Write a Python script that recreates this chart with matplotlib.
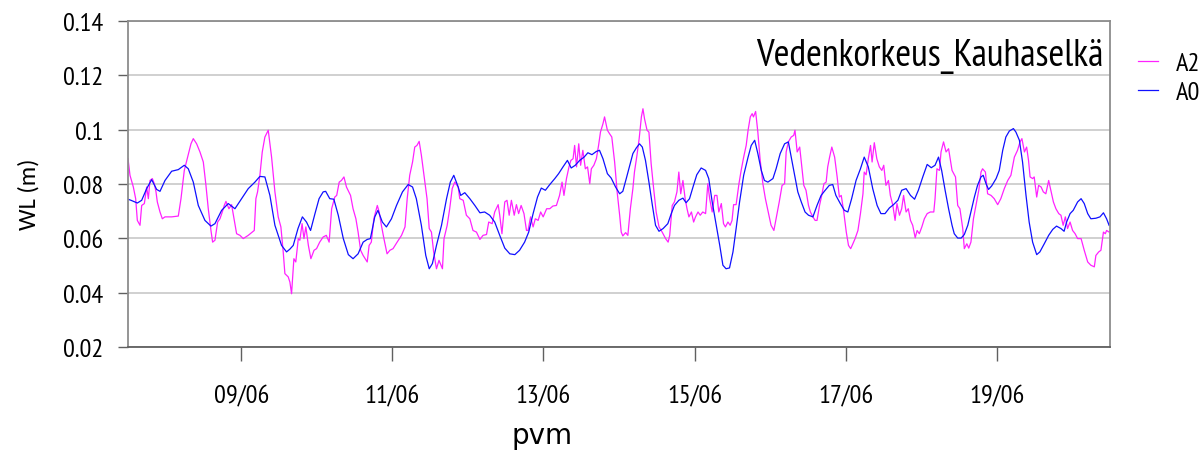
import matplotlib
matplotlib.use('Agg')
import matplotlib.pyplot as plt
import pandas as pd

# water level, hours since 07/06 12:00
start = pd.Timestamp('2011-06-07 12:00')
end = pd.Timestamp('2011-06-20 12:00')
tick_days = ['2011-06-09', '2011-06-11', '2011-06-13', '2011-06-15', '2011-06-17', '2011-06-19']
y_ticks = [0.02, 0.04, 0.06, 0.08, 0.1, 0.12, 0.14]
y_labels = ['0.02', '0.04', '0.06', '0.08', '0.1', '0.12', '0.14']

a0_hours = [0.0, 0.95, 2.96, 4.34, 5.93, 7.51, 9.1, 10.16, 11.75, 13.86, 15.98, 17.88, 19.15, 20.74,
            22.33, 24.44, 26.35, 27.62, 29.74, 31.85, 33.97, 36.08, 38.2, 40.32, 41.9, 43.49, 45.08,
            46.67, 48.78, 50.37,
            51.4, 52.5, 54.0, 55.4, 56.7, 58.0, 59.4, 60.7, 62.0, 62.8, 64.1, 65.4, 66.8, 68.4, 70.0,
            71.5, 73.1, 74.7, 76.0, 77.0, 78.4, 79.4, 80.8, 82.1, 83.7, 85.3, 87.2, 89.0, 90.4, 91.6,
            93.2, 94.6, 95.7, 96.7, 98.0, 99.6, 101.2, 102.4, 103.5,
            104.9, 105.7, 107.0, 108.6, 110.2, 111.8, 113.3, 114.9, 116.5, 118.1, 119.7, 121.3, 122.9,
            124.4, 126.0, 127.3, 128.7, 130.1, 131.3, 132.6, 134.0, 135.6, 136.8, 138.2, 139.6, 140.8,
            142.1, 143.5, 144.9, 146.1, 147.4, 148.8, 149.8, 150.9, 152.3, 153.5, 154.9, 156.2,
            157.2, 158.3, 159.4, 160.4, 161.5, 162.5, 163.4, 164.4, 165.5, 166.6, 167.6, 168.7, 170.0,
            171.5, 172.6, 173.6, 175.0, 176.3, 177.3, 178.4, 179.5, 180.7, 182.1, 183.5, 184.5, 185.6,
            186.9, 188.0, 189.0, 190.0, 191.1, 192.2, 193.2, 194.3, 195.6, 197.0, 198.0, 199.1, 200.1,
            201.2, 202.2, 203.3, 204.9, 205.9, 207.2, 208.6,
            209.8, 210.7, 211.7, 212.8, 213.9, 215.1, 216.2, 217.6, 218.9, 220.2, 221.5, 222.8, 223.9,
            224.9, 226.3, 227.6, 228.7, 229.9, 231.3, 232.7, 233.9, 235.2, 236.6, 238.0, 239.2, 240.5,
            241.9, 243.2, 244.6, 245.8, 247.2, 248.6, 249.9, 251.1, 252.5, 253.9, 255.2, 256.4, 257.5,
            258.5, 259.6, 260.7,
            261.8, 262.5, 263.6, 264.7, 265.7, 266.8, 267.8, 268.9, 269.9, 271.0, 271.7, 272.6, 273.4,
            274.4, 275.8, 276.8, 277.9, 278.9, 280.0, 281.3, 282.1, 283.2, 284.2, 285.3, 286.3, 287.4,
            288.7, 289.7, 291.1, 292.5, 293.8, 295.0, 296.4, 297.4, 298.2, 299.3, 300.3, 301.7, 302.8,
            303.8, 304.9, 305.9, 307.5, 308.8, 309.9, 310.9, 311.7]
a0_wl = [0.0744, 0.0740, 0.0730, 0.0740, 0.0783, 0.0816, 0.0780, 0.0773, 0.0813, 0.0847, 0.0853, 0.0869,
         0.0856, 0.0807, 0.0721, 0.0666, 0.0645, 0.0654, 0.0703, 0.0728, 0.0709, 0.0746, 0.0783, 0.0807,
         0.0828, 0.0826, 0.0758, 0.0648, 0.0574, 0.0550,
         0.0560, 0.0574, 0.0636, 0.0679, 0.0660, 0.0629, 0.0691, 0.0746, 0.0771, 0.0773, 0.0746, 0.0744,
         0.0685, 0.0599, 0.0540, 0.0525, 0.0543, 0.0586, 0.0596, 0.0599, 0.0679, 0.0703, 0.0660, 0.0642,
         0.0672, 0.0721, 0.0771, 0.0798, 0.0789, 0.0746, 0.0648, 0.0537, 0.0488, 0.0507, 0.0574, 0.0648,
         0.0746, 0.0807, 0.0832,
         0.0789, 0.0758, 0.0768, 0.0746, 0.0721, 0.0694, 0.0697, 0.0685, 0.0660, 0.0611, 0.0564, 0.0543,
         0.0540, 0.0556, 0.0586, 0.0623, 0.0691, 0.0752, 0.0785, 0.0777, 0.0798, 0.0820, 0.0838, 0.0863,
         0.0887, 0.0859, 0.0869, 0.0887, 0.0899, 0.0915, 0.0908, 0.0920, 0.0924, 0.0893, 0.0838, 0.0822,
         0.0789, 0.0764,
         0.0773, 0.0820, 0.0869, 0.0912, 0.0933, 0.0948, 0.0936, 0.0887, 0.0807, 0.0721, 0.0648, 0.0626,
         0.0636, 0.0654, 0.0691, 0.0721, 0.0740, 0.0748, 0.0731, 0.0746, 0.0789, 0.0834, 0.0859, 0.0850,
         0.0820, 0.0734, 0.0648, 0.0574, 0.0501, 0.0488, 0.0491, 0.0550, 0.0636, 0.0734, 0.0832, 0.0899,
         0.0942, 0.0961, 0.0912, 0.0850, 0.0813, 0.0807, 0.0820, 0.0856, 0.0912, 0.0948,
         0.0955, 0.0899, 0.0838, 0.0771, 0.0734, 0.0697, 0.0685, 0.0679, 0.0721, 0.0758, 0.0777, 0.0795,
         0.0798, 0.0758, 0.0728, 0.0703, 0.0697, 0.0746, 0.0813, 0.0856, 0.0899, 0.0863, 0.0783, 0.0721,
         0.0691, 0.0691, 0.0712, 0.0724, 0.0740, 0.0777, 0.0783, 0.0758, 0.0744, 0.0777, 0.0826, 0.0872,
         0.0860, 0.0869, 0.0899, 0.0850, 0.0777, 0.0709,
         0.0648, 0.0617, 0.0601, 0.0601, 0.0614, 0.0648, 0.0697, 0.0752, 0.0795, 0.0826, 0.0832, 0.0801,
         0.0780, 0.0793, 0.0820, 0.0850, 0.0924, 0.0973, 0.0995, 0.1004, 0.0991, 0.0961, 0.0881, 0.0758,
         0.0660, 0.0586, 0.0540, 0.0550, 0.0580, 0.0611, 0.0633, 0.0645, 0.0636, 0.0626, 0.0660, 0.0691,
         0.0703, 0.0734, 0.0746, 0.0728, 0.0691, 0.0672, 0.0674, 0.0679, 0.0694, 0.0672, 0.0648]

a2_hours = [0.0, 0.63, 1.69, 2.43, 2.96, 3.81, 4.34, 5.19, 5.93, 6.46, 6.98, 7.72, 8.36, 8.89, 9.31,
            10.16, 10.9, 11.75, 13.86, 15.98, 16.83, 17.88, 18.94, 20.0, 20.74, 21.8, 22.86, 23.92,
            24.76, 25.5, 26.35, 26.88, 27.62, 28.47, 29.21, 29.95, 30.58, 31.11, 32.06, 32.91, 33.76,
            34.5, 35.56, 36.61, 38.2, 40.11, 40.63, 41.16, 41.9, 42.65, 43.49, 44.55, 45.61, 46.67,
            47.72, 48.57, 49.31, 49.84, 50.9, 51.43, 51.96,
            52.7, 53.3, 54.1, 54.6, 55.3, 55.9, 56.5, 57.3, 58.1, 59.1, 59.9, 60.9, 62.0, 63.0, 63.9,
            64.7, 65.7, 66.3, 67.1, 67.8, 68.6, 69.4, 70.7, 71.5, 72.4, 73.1, 73.9, 74.7, 76.0, 76.6,
            77.3, 78.1, 79.2, 79.8, 80.5, 81.3, 82.3, 83.2, 84.2, 85.5, 86.9, 88.0, 88.7, 89.5, 90.4,
            91.1, 91.8, 92.5, 93.2, 94.3, 95.0, 95.7, 96.4, 97.1, 98.0, 98.8, 99.9, 100.4, 101.4,
            102.2, 103.0, 103.8, 104.9,
            105.4, 106.5, 107.5, 108.6, 109.6, 110.7, 111.8, 112.8, 113.9, 114.6, 115.7, 116.5, 117.6,
            118.1, 118.8, 119.7, 120.4, 121.1, 121.8, 122.7, 123.4, 124.1, 124.9, 125.8, 126.6, 127.1,
            127.9, 128.7, 129.4, 130.3, 131.1, 131.9, 133.0, 134.0, 135.0, 136.1, 137.1, 137.9, 138.5,
            139.3, 140.1, 140.7, 141.4, 141.9, 142.5, 143.2, 143.8, 144.5, 145.3, 146.0, 146.7, 147.2,
            148.0, 148.8, 149.5, 150.1, 150.9, 151.4, 152.3, 153.0, 153.7, 154.6, 155.4, 156.2,
            156.7, 157.2, 158.1, 158.8, 159.6, 160.4, 160.9, 161.7, 162.4, 163.1, 163.6, 164.1, 164.9,
            165.5, 166.2, 167.0, 167.8, 168.7, 169.7, 170.8, 171.6, 172.1, 172.9, 173.6, 174.4, 175.0,
            175.6, 176.3, 177.0, 177.6, 178.2, 179.0, 179.7, 180.3, 181.1, 181.8, 182.6, 183.5, 184.2,
            184.8, 185.6, 186.4, 187.1, 187.7, 188.5, 189.2, 189.8, 190.6, 191.3, 191.9, 192.4, 193.2,
            194.1, 194.8, 195.6, 196.4, 197.0, 197.7, 198.3, 198.7, 199.4, 200.1, 200.8, 201.7, 202.5,
            203.6, 204.3, 205.2, 206.1, 206.9, 207.8, 208.6,
            209.1, 209.8, 210.7, 211.5, 211.9, 212.6, 213.4, 213.9, 214.7, 215.4, 216.2, 216.8, 217.6,
            218.3, 218.9, 219.7, 220.4, 221.1, 221.8, 222.3, 222.9, 223.6, 224.5, 225.3, 226.0, 226.6,
            227.4, 228.2, 228.9, 229.6, 230.3, 231.0, 231.9, 232.7, 233.5, 233.9, 234.5, 235.2, 235.9,
            236.4, 237.1, 237.9, 238.7, 239.5, 240.1, 240.8, 241.6, 242.2, 243.0, 243.7, 244.3, 245.1,
            245.8, 246.4, 247.2, 247.9, 248.6, 249.3, 250.1, 250.7, 251.4, 252.2, 253.0, 253.9, 254.9,
            256.0, 256.4, 257.0, 257.8, 258.3, 259.1, 259.9, 260.7,
            261.8, 262.9, 263.6, 264.3, 265.2, 265.7, 266.5, 267.1, 267.8, 268.6, 269.4, 270.3, 271.0,
            271.5, 272.4, 273.1, 274.2, 275.2, 276.3, 277.3, 278.4, 279.5, 280.5, 281.6, 282.6, 283.4,
            284.0, 284.8, 285.5, 286.1, 286.6, 287.4, 287.9, 288.7, 289.3, 290.1, 290.8, 291.6, 292.5,
            293.2, 294.0, 294.8, 295.7, 296.4, 297.1, 297.8, 298.5, 299.3, 300.1, 300.9, 301.7, 302.8,
            303.8, 304.9, 305.9, 307.0, 307.5, 308.4, 309.1, 309.9, 310.5, 310.9, 311.7]
a2_wl = [0.0893, 0.0832, 0.0789, 0.0746, 0.0666, 0.0648, 0.0721, 0.0728, 0.0789, 0.0746, 0.0813, 0.0820,
         0.0801, 0.0771, 0.0734, 0.0697, 0.0672, 0.0679, 0.0679, 0.0682, 0.0746, 0.0850, 0.0899, 0.0948,
         0.0967, 0.0948, 0.0918, 0.0881, 0.0795, 0.0709, 0.0629, 0.0586, 0.0593, 0.0660, 0.0672, 0.0697,
         0.0721, 0.0736, 0.0709, 0.0724, 0.0666, 0.0617, 0.0611, 0.0599, 0.0611, 0.0629, 0.0746, 0.0771,
         0.0832, 0.0918, 0.0973, 0.0998, 0.0899, 0.0771, 0.0679, 0.0642, 0.0550, 0.0470, 0.0458, 0.0439,
         0.0396,
         0.0525, 0.0513, 0.0599, 0.0593, 0.0654, 0.0599, 0.0642, 0.0574, 0.0525, 0.0556, 0.0562, 0.0586,
         0.0605, 0.0611, 0.0586, 0.0709, 0.0752, 0.0758, 0.0807, 0.0813, 0.0826, 0.0789, 0.0758, 0.0709,
         0.0672, 0.0623, 0.0556, 0.0537, 0.0513, 0.0574, 0.0586, 0.0672, 0.0721, 0.0697, 0.0648, 0.0599,
         0.0543, 0.0556, 0.0562, 0.0586, 0.0611, 0.0642, 0.0746, 0.0832, 0.0881, 0.0936, 0.0942, 0.0957,
         0.0906, 0.0807, 0.0746, 0.0636, 0.0623, 0.0550, 0.0488, 0.0519, 0.0488, 0.0599, 0.0648, 0.0709,
         0.0783, 0.0807, 0.0789,
         0.0746, 0.0740, 0.0685, 0.0672, 0.0629, 0.0623, 0.0596, 0.0611, 0.0614, 0.0660, 0.0654, 0.0697,
         0.0724, 0.0685, 0.0617, 0.0734, 0.0740, 0.0685, 0.0740, 0.0685, 0.0724, 0.0691, 0.0721, 0.0691,
         0.0629, 0.0629, 0.0679, 0.0642, 0.0672, 0.0666, 0.0697, 0.0679, 0.0709, 0.0709, 0.0719, 0.0721,
         0.0758, 0.0807, 0.0758, 0.0820, 0.0863, 0.0887, 0.0893, 0.0942, 0.0863, 0.0948, 0.0869, 0.0924,
         0.0856, 0.0863, 0.0801, 0.0856, 0.0869, 0.0893, 0.0942, 0.0991, 0.1022, 0.1047, 0.0998, 0.0985,
         0.0973, 0.0881, 0.0771, 0.0685,
         0.0623, 0.0609, 0.0621, 0.0611, 0.0709, 0.0783, 0.0844, 0.0906, 0.0967, 0.1047, 0.1077, 0.1040,
         0.0998, 0.0991, 0.0875, 0.0783, 0.0697, 0.0642, 0.0623, 0.0599, 0.0586, 0.0611, 0.0721, 0.0734,
         0.0771, 0.0844, 0.0764, 0.0813, 0.0746, 0.0709, 0.0679, 0.0697, 0.0660, 0.0679, 0.0697, 0.0685,
         0.0697, 0.0691, 0.0801, 0.0746, 0.0697, 0.0758, 0.0758, 0.0697, 0.0728, 0.0654, 0.0642, 0.0660,
         0.0648, 0.0666, 0.0724, 0.0724, 0.0801, 0.0850, 0.0899, 0.0942, 0.0998, 0.1047, 0.1059, 0.1047,
         0.1067, 0.0991, 0.0893, 0.0801, 0.0746, 0.0685, 0.0648, 0.0629, 0.0685, 0.0734, 0.0795, 0.0801,
         0.0918, 0.0955, 0.0973, 0.0979, 0.0998, 0.0918, 0.0936, 0.0881, 0.0795, 0.0777, 0.0721, 0.0697,
         0.0679, 0.0666, 0.0666, 0.0721, 0.0758, 0.0801, 0.0807, 0.0863, 0.0899, 0.0936, 0.0899, 0.0826,
         0.0752, 0.0758, 0.0697, 0.0623, 0.0574, 0.0562, 0.0580, 0.0599, 0.0629, 0.0691, 0.0764, 0.0844,
         0.0834, 0.0893, 0.0942, 0.0881, 0.0952, 0.0893, 0.0863, 0.0850, 0.0869, 0.0795, 0.0813, 0.0758,
         0.0721, 0.0666, 0.0728, 0.0685, 0.0709, 0.0758, 0.0697, 0.0709, 0.0666, 0.0648, 0.0602, 0.0629,
         0.0617, 0.0642, 0.0672, 0.0691, 0.0697, 0.0697, 0.0746, 0.0856, 0.0850, 0.0918, 0.0955, 0.0918,
         0.0930,
         0.0850, 0.0826, 0.0721, 0.0709, 0.0636, 0.0562, 0.0580, 0.0564, 0.0586, 0.0672, 0.0721, 0.0777,
         0.0844, 0.0856, 0.0844, 0.0764, 0.0758, 0.0746, 0.0724, 0.0746, 0.0783, 0.0813, 0.0832, 0.0899,
         0.0924, 0.0955, 0.0967, 0.0918, 0.0936, 0.0887, 0.0826, 0.0820, 0.0826, 0.0752, 0.0795, 0.0789,
         0.0771, 0.0764, 0.0813, 0.0777, 0.0734, 0.0709, 0.0691, 0.0685, 0.0648, 0.0679, 0.0636, 0.0660,
         0.0629, 0.0617, 0.0599, 0.0599, 0.0556, 0.0513, 0.0501, 0.0495, 0.0537, 0.0550, 0.0556, 0.0623,
         0.0617, 0.0629, 0.0623]

# Calibri-like narrow text, as in the spreadsheet export
plt.rcParams['font.family'] = ['PT Sans Narrow', 'DejaVu Sans']

a0_times = start + pd.to_timedelta(a0_hours, unit='h')
a2_times = start + pd.to_timedelta(a2_hours, unit='h')

fig = plt.figure(figsize=(12.02, 4.52), dpi=100)
ax = fig.add_axes([0.1065, 0.2301, 0.817, 0.7212])

ax.plot(a2_times, a2_wl, color='#ff22ff', lw=0.9, label='A2')
ax.plot(a0_times, a0_wl, color='#1010ff', lw=0.9, label='A0')

ax.set_xlim(start, end)
ax.set_ylim(0.02, 0.14)
ax.set_yticks(y_ticks)
ax.set_yticklabels(y_labels)
ax.set_xticks(pd.to_datetime(tick_days))
ax.set_xticklabels([pd.Timestamp(d).strftime('%d/%m') for d in tick_days])
ax.grid(axis='y', color='#c8c8c8', lw=1.2)
ax.set_axisbelow(True)

for s in ax.spines.values():
    s.set_color('#8c8c8c')
    s.set_linewidth(1.3)
ax.spines['bottom'].set_color('#606060')

ax.tick_params(axis='y', direction='out', length=7, width=1, color='#606060',
               labelsize=19, pad=11)
ax.tick_params(axis='x', direction='out', length=10, width=1, color='#606060',
               labelsize=19, pad=17)

ax.set_ylabel('WL (m)', fontsize=17.5, family=['Carlito', 'DejaVu Sans'])
ax.yaxis.set_label_coords(-0.101, 0.47)
ax.yaxis.label.set_va('center')
ax.set_xlabel('pvm', fontsize=20, family='DejaVu Sans')
ax.xaxis.set_label_coords(0.4216, -0.27)
ax.xaxis.label.set_va('center')

ax.text(0.993, 0.865, 'Vedenkorkeus_Kauhaselkä', transform=ax.transAxes,
        ha='right', va='baseline', fontsize=27.5)

ax.legend(loc='upper left', bbox_to_anchor=(1.0285, 0.905), frameon=False,
          fontsize=19, handlelength=0.75, handletextpad=0.7, labelspacing=0.2,
          borderpad=0, borderaxespad=0)

fig.savefig('out.png', dpi=100)
